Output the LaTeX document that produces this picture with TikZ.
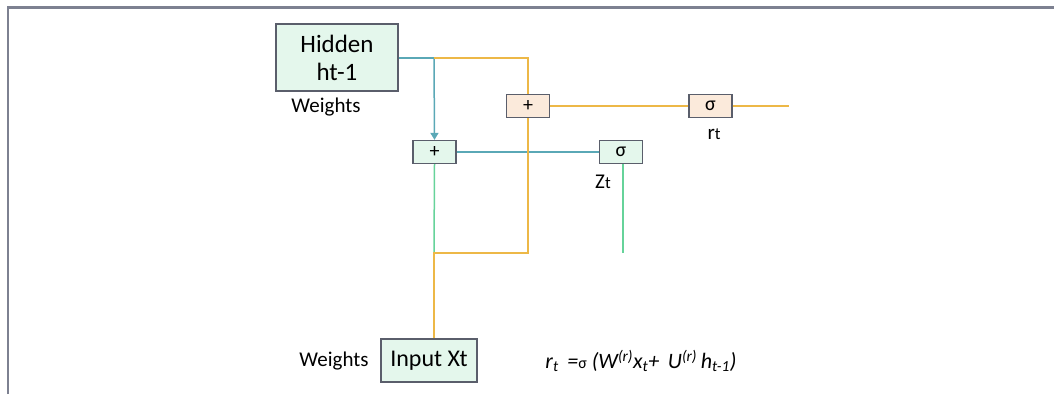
\documentclass[tikz,border=0pt]{standalone}
\usepackage{fontspec}
\setmainfont{Carlito}
\usetikzlibrary{arrows.meta}

\definecolor{boxgreen}{HTML}{E4F7EC}
\definecolor{boxorange}{HTML}{FBEADB}
\definecolor{boxline}{HTML}{5A5E6B}
\definecolor{wireblue}{HTML}{5AA8B6}
\definecolor{wireorange}{HTML}{EDB847}
\definecolor{wiregreen}{HTML}{66D39A}
\definecolor{framegray}{HTML}{7D8191}

\begin{document}
\begin{tikzpicture}[x=1pt, y=-1pt,
  box/.style={draw=boxline, line width=1.3pt, fill=boxgreen, inner sep=0pt},
  gate/.style={box, minimum width=43pt, minimum height=23pt, font=\fontsize{20}{20}\selectfont},
  wire/.style={line width=1.5pt},
  lbl/.style={font=\fontsize{21}{24}\selectfont, inner sep=0pt}]

  % --- 枠と範囲 ---
  \useasboundingbox (0,0) rectangle (1054,394);
  \draw[framegray, line width=2.4pt] (8,394) -- (8,7.5) -- (1054,7.5);

  % 1. ボックス
  \node[box, minimum width=122pt, minimum height=67pt, align=center,
    font=\fontsize{25}{28}\selectfont] (hid) at (337,57.5) {Hidden\\ht-1};
  \node[box, minimum width=96pt, minimum height=43pt,
    font=\fontsize{24}{24}\selectfont] (inp) at (429,360.5) {Input Xt};

  % 2. ゲート
  \node[gate] (add1) at (434.5,152) {+};
  \node[gate, fill=boxorange] (add2) at (528,106) {+};
  \node[gate] (sigz) at (621,152) {σ};
  \node[gate, fill=boxorange] (sigr) at (710.5,106) {σ};

  % 3. ラベル
  \node[lbl] (wh) at (326,107) {Weights};
  \node[lbl] (wi) at (334,361) {Weights};
  \node[lbl] (rt) at (714,134) {r{\fontsize{17}{17}\selectfont t}};
  \node[lbl] (zt) at (603,182) {Z{\fontsize{17}{17}\selectfont t}};
  \node[lbl, font=\fontsize{22}{26}\selectfont\itshape] (eq) at (641,361)
    {r\textsubscript{t} \,={\upshape\fontsize{16}{16}\selectfont σ} (W\textsuperscript{(r)}x\textsubscript{t}+ \,U\textsuperscript{(r)}\,h\textsubscript{t-1})};

  % 4. 分岐点
  \coordinate (split) at (434,58);
  \coordinate (otop) at (528,58);
  \coordinate (obot) at (528,253);
  \coordinate (join) at (434,253);
  \coordinate (rend) at (789,106);
  \coordinate (zend) at (623,253);

  % 5. 配線
  \draw[wire, wireblue] (hid.east |- split) -- (split)
    edge[-{Triangle[length=7pt, width=8pt]}] (add1.north);
  \draw[wire, wireblue] (add1.east) -- (sigz.west);
  \draw[wire, wiregreen] (add1.south) -- (join);
  \draw[wire, wiregreen] (zend |- sigz.south) -- (zend);
  \draw[wire, wireorange] (split) -- (otop) -- (add2.north);
  \draw[wire, wireorange] (add2.south) -- (obot) -- (join) -- (join |- inp.north);
  \draw[wire, wireorange] (add2.east) -- (sigr.west);
  \draw[wire, wireorange] (sigr.east) -- (rend);

\end{tikzpicture}
\end{document}
